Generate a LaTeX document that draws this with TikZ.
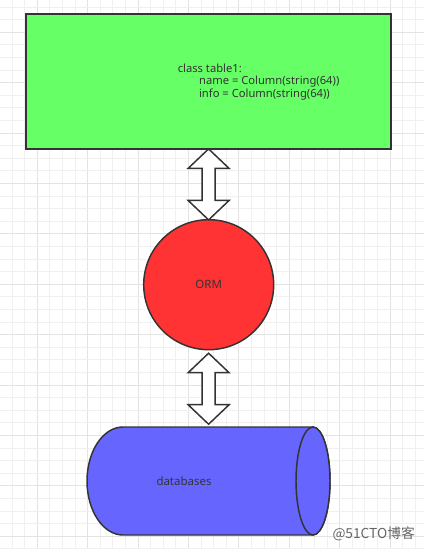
\documentclass[tikz,border=0pt]{standalone}
\usepackage{fontspec}
\setmainfont{Noto Sans}
\newfontfamily\cjk{Noto Sans CJK SC}
\usetikzlibrary{calc}
\definecolor{boxgreen}{HTML}{66FF66}
\definecolor{ormred}{HTML}{FF3333}
\definecolor{dbblue}{HTML}{6666FF}
\definecolor{edge}{HTML}{333333}
\definecolor{txt}{HTML}{333333}
\definecolor{gridminor}{HTML}{F0F0F0}
\definecolor{gridmajor}{HTML}{E3E3E3}
\definecolor{wm}{HTML}{666666}
\tikzset{
  modelbox/.style={draw=edge, line width=1.3pt, fill=boxgreen, minimum width=273.75pt, minimum height=101.25pt, inner sep=0pt},
  codetext/.style={text=txt, font=\fontsize{8.4}{9.3}\selectfont, align=left, inner sep=0pt},
  ormcircle/.style={circle, draw=edge, line width=1.1pt, fill=ormred, minimum size=97.5pt, inner sep=0pt, text=txt, font=\fontsize{8.6}{10}\selectfont},
  dbshape/.style={draw=edge, line width=1.1pt, fill=dbblue},
  dbtext/.style={text=txt, font=\fontsize{8.6}{10}\selectfont, inner sep=0pt},
  arrowbody/.style={draw=edge, line width=1.1pt, fill=white, line join=miter},
  dblarrow/.pic={\draw[arrowbody] (0,-35.5) -- (20.5,-16) -- (6.5,-16) -- (6.5,16) -- (20.5,16) -- (0,35.5) -- (-20.5,16) -- (-6.5,16) -- (-6.5,-16) -- (-20.5,-16) -- cycle;},
}
\begin{document}
\begin{tikzpicture}[x=0.75pt,y=-0.75pt]
\useasboundingbox (0,0) rectangle (424,549);
\fill[white] (0,0) rectangle (424,549);
% grid
\foreach \k in {-3,...,31}{
  \pgfmathsetmacro\gx{37.3+12.6*\k}
  \pgfmathtruncatemacro\mk{mod(\k+40,4)}
  \ifnum\mk=0 \draw[gridmajor, line width=0.75pt] (\gx,0) -- (\gx,549);
  \else \draw[gridminor, line width=0.75pt] (\gx,0) -- (\gx,549); \fi
}
\foreach \k in {-15,...,29}{
  \pgfmathsetmacro\gy{183.5+12.6*\k}
  \pgfmathtruncatemacro\mk{mod(\k+40,4)}
  \ifnum\mk=0 \draw[gridmajor, line width=0.75pt] (0,\gy) -- (424,\gy);
  \else \draw[gridminor, line width=0.75pt] (0,\gy) -- (424,\gy); \fi
}
% model box
\node[modelbox] (model) at (208.5,81.5) {};
\node[codetext, anchor=west] (code) at (177.5,82) {class table1:\\\hspace*{16pt}name = Column(string(64))\\\hspace*{16pt}info = Column(string(64))};
% ORM
\node[ormcircle] (orm) at (208.7,284.7) {ORM};
% database cylinder
\coordinate (dbtop) at (208.5,427);
\path[dbshape] (123,427) -- (313,427) arc[start angle=90, end angle=-90, x radius=12.75pt, y radius=40.5pt] -- (123,535) arc[start angle=-90, end angle=-270, x radius=27pt, y radius=40.5pt] -- cycle;
\draw[dbshape] (313,481) ellipse[x radius=12.75pt, y radius=40.5pt];
\node[dbtext] (db) at (184,481) {databases};
% arrows
\pic at ($(model.south)!0.5!(orm.north)$) {dblarrow};
\pic at ($(orm.south)!0.5!(dbtop)$) {dblarrow};
% watermark
\node[anchor=east, text=wm, inner sep=0pt, font=\cjk\fontsize{10.3}{12}\selectfont] (mark) at (415,534) {@51CTO博客};
\end{tikzpicture}
\end{document}
